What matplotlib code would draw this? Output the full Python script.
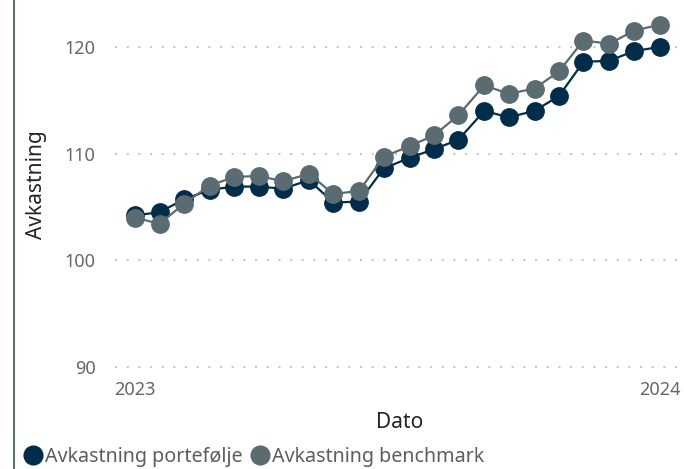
import matplotlib
matplotlib.use("Agg")
import matplotlib.pyplot as plt
from matplotlib.lines import Line2D
import pandas as pd

plt.rcParams['font.family'] = ['Noto Sans', 'DejaVu Sans']

# data
dates = pd.to_datetime([
    "2023-01-01", "2023-01-18", "2023-02-04", "2023-02-22", "2023-03-11",
    "2023-03-28", "2023-04-14", "2023-05-02", "2023-05-19", "2023-06-06",
    "2023-06-23", "2023-07-11", "2023-07-28", "2023-08-14", "2023-09-01",
    "2023-09-18", "2023-10-06", "2023-10-23", "2023-11-09", "2023-11-27",
    "2023-12-14", "2024-01-01",
])
portefolje = [104.2, 104.5, 105.7, 106.6, 106.9, 106.9, 106.7, 107.5, 105.4, 105.5,
              108.6, 109.6, 110.4, 111.3, 114.0, 113.4, 114.0, 115.4, 118.6, 118.7,
              119.6, 120.0]
benchmark = [104.0, 103.4, 105.3, 107.0, 107.8, 107.9, 107.4, 108.1, 106.2, 106.5,
             109.7, 110.7, 111.7, 113.6, 116.4, 115.6, 116.1, 117.7, 120.6, 120.3,
             121.5, 122.1]
yticks = [90, 100, 110, 120]
xticks = pd.to_datetime(["2023-01-01", "2024-01-01"])
xticklabels = ["2023", "2024"]

c_port = "#012d4a"
c_bench = "#5b6b72"
c_tick = "#666666"
c_label = "#252423"

fig = plt.figure(figsize=(6.84, 4.69), dpi=100)
ax = fig.add_axes([115/684, 1 - 370/469, 1 - 115/684, 370/469])

ax.plot(dates, portefolje, color=c_port, lw=1.6, marker="o", ms=12.5,
        label="Avkastning portefølje", zorder=3)
ax.plot(dates, benchmark, color=c_bench, lw=1.6, marker="o", ms=12.5,
        label="Avkastning benchmark", zorder=4)

ax.set_xlim(pd.Timestamp("2022-12-18"), pd.Timestamp("2024-01-18"))
ax.set_ylim(89.7, 124.4)
ax.set_yticks(yticks)
ax.set_xticks(xticks)
ax.set_xticklabels(xticklabels)

ax.yaxis.grid(True, color="#c8c8c8", lw=1.5, linestyle=(0, (1, 4.6)))
ax.xaxis.grid(False)
ax.set_axisbelow(True)
for s in ax.spines.values():
    s.set_visible(False)
ax.tick_params(axis="both", length=0, labelsize=13, labelcolor=c_tick)
ax.tick_params(axis="y", pad=14)
ax.tick_params(axis="x", pad=8)

ax.set_ylabel("Avkastning", fontsize=15, color=c_label, labelpad=0)
ax.yaxis.set_label_coords((47 - 115) / (684 - 115), 0.5)
ax.set_xlabel("Dato", fontsize=15, color=c_label)
ax.xaxis.set_label_coords(0.5, -(412 - 370) / 370)

# thin vertical rule at the far left
fig.add_artist(Line2D([14/684, 14/684], [0, 1], color="#5f6f78", lw=1.5,
                      transform=fig.transFigure))

h, l = ax.get_legend_handles_labels()
handles = [Line2D([], [], color=c, marker="o", ms=13.5, lw=0) for c in (c_port, c_bench)]
fig.legend(handles, l, loc="center left", bbox_to_anchor=(24/684, 1 - 457/469),
           ncol=2, frameon=False, fontsize=14.2, labelcolor="#605e5c",
           handlelength=0.9, handletextpad=0.15, columnspacing=0.45,
           borderaxespad=0, borderpad=0)

fig.savefig("out.png", dpi=100)
